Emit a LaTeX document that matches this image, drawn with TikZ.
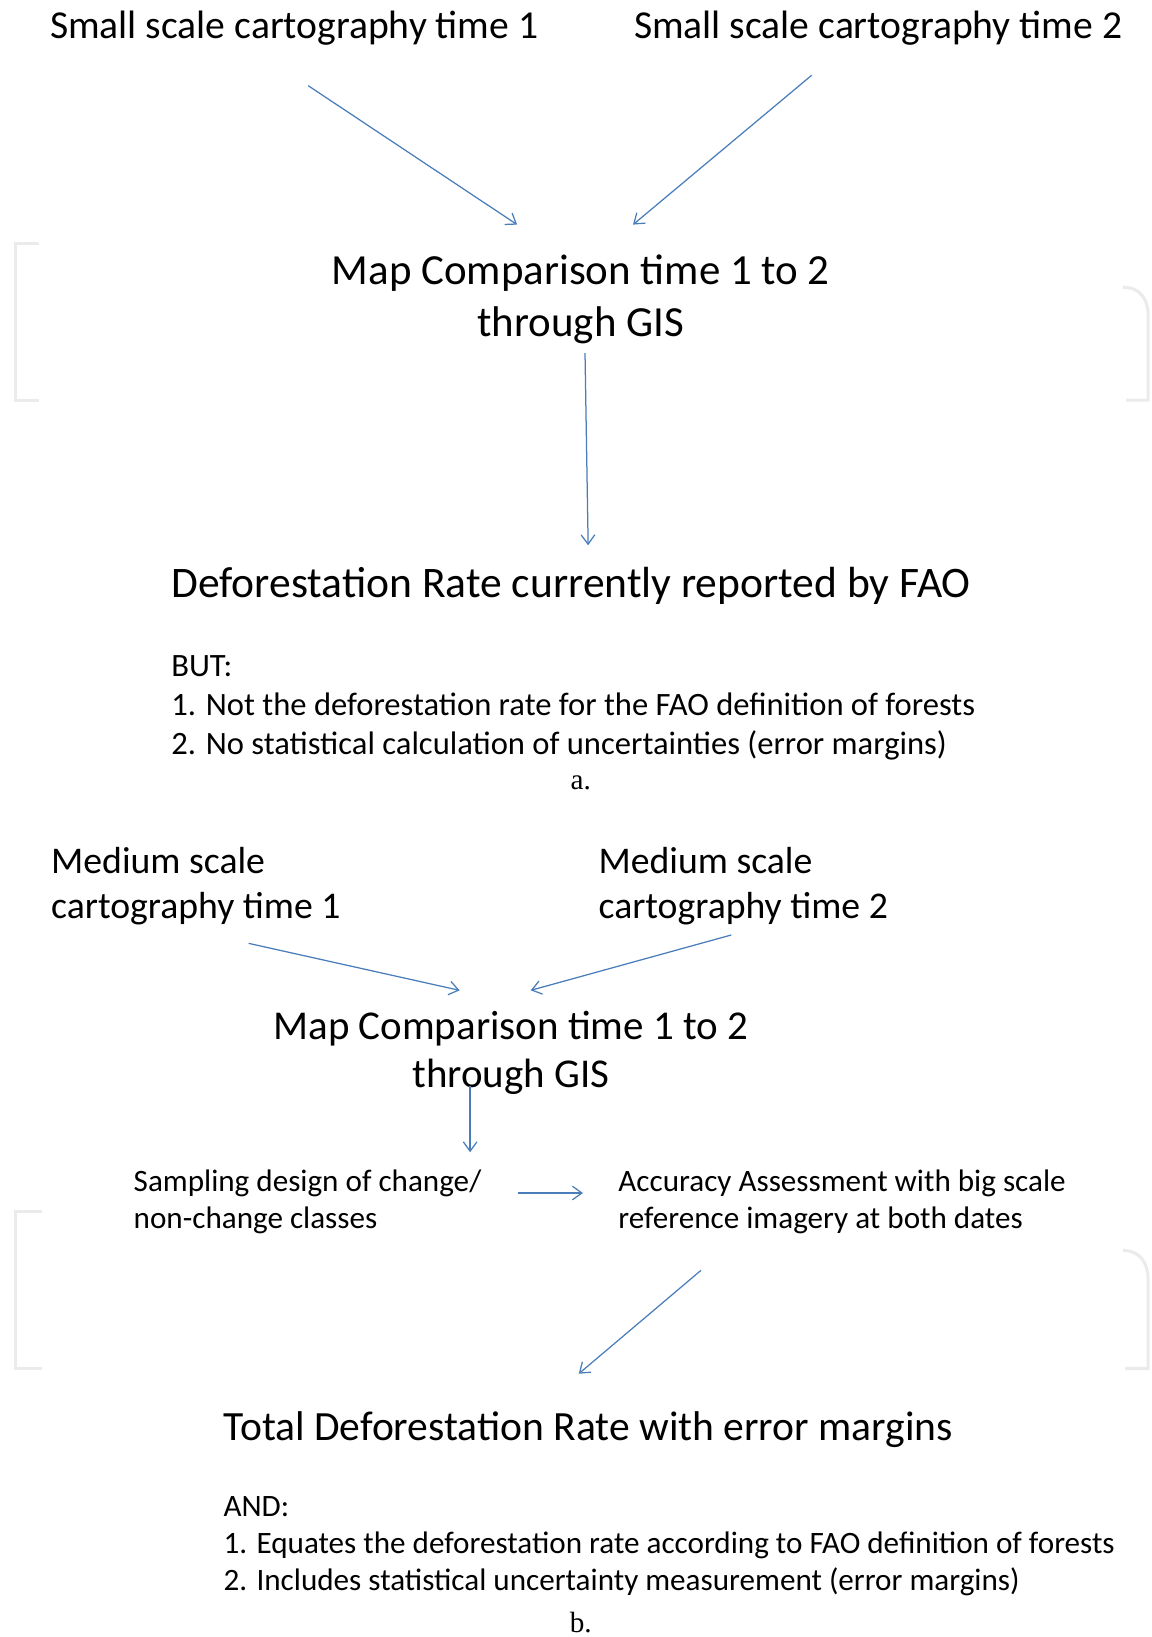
\documentclass[tikz,border=0pt]{standalone}
\usepackage{fontspec}
\setmainfont{Carlito}
\newfontfamily\capfont{Liberation Serif}
\usetikzlibrary{arrows.meta}
\definecolor{arrowblue}{HTML}{4A7EBB}
\definecolor{framegray}{HTML}{EBEBEB}
\tikzset{
  flow/.style={draw=arrowblue, line width=1.2pt, -{Straight Barb[length=9pt,width=13pt]}},
  framebr/.style={draw=framegray, line width=3pt},
  txt/.style={inner sep=0pt, outer sep=0pt},
  toptxt/.style={txt, font=\fontsize{37.9}{46}\selectfont},
  bigtxt/.style={txt, font=\fontsize{41.1}{50}\selectfont},
  deftxt/.style={txt, font=\fontsize{41.7}{50}\selectfont},
  tottxt/.style={txt, font=\fontsize{39.8}{50}\selectfont},
  bigtxtb/.style={txt, font=\fontsize{39.2}{46}\selectfont},
  midtxt/.style={txt, font=\fontsize{36.1}{43}\selectfont},
  smalltxt/.style={txt, font=\fontsize{29.8}{35}\selectfont},
  buttxt/.style={txt, font=\fontsize{31.2}{37}\selectfont},
  captxt/.style={txt, font=\capfont\fontsize{28}{34}\selectfont}
}
\begin{document}
\begin{tikzpicture}[x=1pt,y=-1pt]
\useasboundingbox (0,0) rectangle (1102,1567);
% faint frame brackets
\draw[framebr] (37,233) -- (15,233) -- (15,383) -- (37,383);
\draw[framebr] (1075,275) .. controls (1092,275) and (1099,287) .. (1099,302) -- (1099,383) -- (1078,383);
\draw[framebr] (40,1160) -- (15,1160) -- (15,1310) -- (40,1310);
\draw[framebr] (1075,1197) .. controls (1092,1197) and (1099,1210) .. (1099,1225) -- (1099,1310) -- (1077,1310);
% part a (multi-line nodes: base anchor = baseline of last line)
\node[toptxt, anchor=base west] (s1) at (48,37) {Small scale cartography time 1};
\node[toptxt, anchor=base west] (s2) at (607,37) {Small scale cartography time 2};
\node[bigtxt, align=center, anchor=base] (m1) at (556,322) {Map Comparison time 1 to 2\\through GIS};
\node[deftxt, anchor=base west] (d1) at (164,572) {Deforestation Rate currently reported by FAO};
\node[buttxt, align=left, anchor=base west] (but) at (164,722) {BUT:\\1. Not the deforestation rate for the FAO definition of forests\\2. No statistical calculation of uncertainties (error margins)};
\node[captxt, anchor=base] (capa) at (556,756) {a.};
% part b
\node[midtxt, align=left, anchor=base west] (ms1) at (49,879) {Medium scale\\cartography time 1};
\node[midtxt, align=left, anchor=base west] (ms2) at (573,879) {Medium scale\\cartography time 2};
\node[bigtxtb, align=center, anchor=base] (m2) at (489,1041) {Map Comparison time 1 to 2\\through GIS};
\node[smalltxt, align=left, anchor=base west] (samp) at (128,1176) {Sampling design of change/\\non-change classes};
\node[smalltxt, align=left, anchor=base west] (acc) at (592,1176) {Accuracy Assessment with big scale\\reference imagery at both dates};
\node[tottxt, anchor=base west] (tot) at (214,1379) {Total Deforestation Rate with error margins};
\node[smalltxt, align=left, anchor=base west] (and) at (214,1522) {AND:\\1. Equates the deforestation rate according to FAO definition of forests\\2. Includes statistical uncertainty measurement (error margins)};
\node[captxt, anchor=base] (capb) at (556,1563) {b.};
% connector end points
\coordinate (a1s) at (295,82);   \coordinate (a1e) at (495,215);
\coordinate (a2s) at (777,72);   \coordinate (a2e) at (606,215);
\coordinate (a3s) at (560,338);  \coordinate (a3e) at (563,522);
\coordinate (a4s) at (238,903);  \coordinate (a4e) at (440,948);
\coordinate (a5s) at (700,895);  \coordinate (a5e) at (508,948);
\coordinate (a6s) at (450,1040); \coordinate (a6e) at (450,1103);
\coordinate (a7s) at (496,1142); \coordinate (a7e) at (558,1142);
\coordinate (a8s) at (671,1216); \coordinate (a8e) at (554,1315);
\draw[flow] (a1s) -- (a1e);
\draw[flow] (a2s) -- (a2e);
\draw[flow] (a3s) -- (a3e);
\draw[flow] (a4s) -- (a4e);
\draw[flow] (a5s) -- (a5e);
\draw[flow] (a6s) -- (a6e);
\draw[flow] (a7s) -- (a7e);
\draw[flow] (a8s) -- (a8e);
\end{tikzpicture}
\end{document}
